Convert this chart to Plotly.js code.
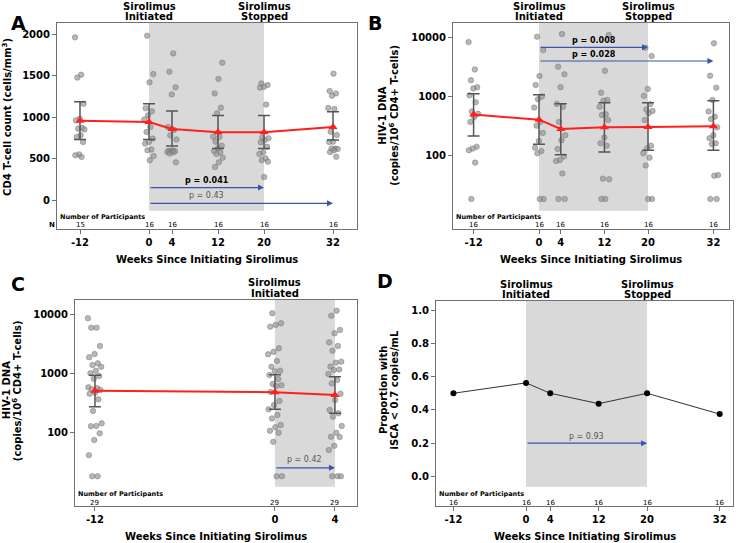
<!DOCTYPE html>
<html>
<head>
<meta charset="utf-8">
<script src="https://cdn.plot.ly/plotly-3.0.1.min.js"></script>
<style>
  body { margin: 0; background: #fff; }
  #chart { width: 736px; height: 543px; }
</style>
</head>
<body>
<div id="chart"></div>
<script>
// weeks since initiating sirolimus
const weeks = [-12, 0, 4, 12, 20, 32];
const weekLabels = ["-12", "0", "4", "12", "20", "32"];
const weeksC = [-12, 0, 4];
const weekLabelsC = ["-12", "0", "4"];

// panel A: CD4 T-cell count, one list per visit
const cd4Wm12 = [1960, 1510, 1475, 1160, 980, 960, 870, 860, 850, 780, 760, 700, 550, 540, 520];
const cd4W0 = [1980, 1518, 1418, 1105, 1070, 1020, 970, 880, 820, 740, 700, 680, 610, 600, 530, 480];
const cd4W4 = [1767, 1546, 1358, 1273, 880, 845, 780, 730, 600, 595, 590, 585, 580, 575, 560, 454];
const cd4W12 = [1655, 1458, 1285, 1112, 1045, 763, 760, 703, 655, 623, 590, 575, 554, 510, 454, 398];
const cd4W20 = [1405, 1385, 1362, 1355, 1150, 750, 745, 720, 695, 642, 575, 554, 502, 480, 462, 277];
const cd4W32 = [1523, 1313, 1285, 1257, 1110, 1097, 823, 783, 703, 700, 620, 620, 614, 600, 578, 522];
const cd4Mean = [956, 940, 855, 816, 816, 880];
const cd4Upper = [1185, 1160, 1072, 1020, 1020, 1064];
const cd4Lower = [730, 730, 650, 622, 622, 723];
const cd4N = [15, 16, 16, 16, 16, 16];

// panel B: HIV-1 DNA (copies/10^6 CD4+ T-cells)
const dnaWm12 = [8500, 2900, 1900, 1450, 1380, 1050, 800, 560, 510, 450, 370, 140, 130, 122, 75, 18];
const dnaW0 = [10500, 6200, 2250, 1580, 1000, 900, 650, 370, 320, 240, 175, 135, 118, 108, 18, 18];
const dnaW4 = [11600, 3230, 2400, 1450, 750, 670, 370, 220, 180, 128, 95, 83, 80, 49, 18, 18];
const dnaW12 = [11200, 2760, 1165, 875, 850, 673, 500, 486, 400, 200, 160, 146, 40, 39, 18, 18];
const dnaW20 = [6800, 4920, 1350, 1035, 740, 600, 570, 520, 400, 146, 132, 108, 91, 67, 18, 18];
const dnaW32 = [8100, 2270, 1420, 875, 560, 455, 415, 300, 220, 195, 160, 155, 46, 45, 18, 18];
const dnaMean = [493, 404, 281, 300, 303, 312];
const dnaUpper = [1122, 1077, 757, 787, 787, 851];
const dnaLower = [213, 154, 102, 114, 122, 122];
const dnaN = [16, 16, 16, 16, 16, 16];

// panel C: HIV-1 DNA, larger group, first 4 weeks
const dnaCm12 = [8550, 5930, 5930, 2900, 2120, 1870, 1475, 1380, 1290, 1106, 1000, 900, 809, 578, 560, 535, 520, 469, 450, 362, 230, 142, 128, 127, 96, 74, 41, 18, 18];
const dnaC0 = [10400, 7030, 6580, 6170, 2650, 2320, 2100, 1615, 1293, 1107, 1080, 935, 800, 658, 630, 609, 480, 340, 290, 245, 196, 172, 133, 122, 106, 98, 69, 18, 18];
const dnaC4 = [11500, 9470, 5420, 4760, 3350, 2900, 2420, 1575, 1510, 1300, 1165, 1137, 973, 769, 676, 450, 352, 239, 210, 184, 128, 98, 84, 83, 59, 50, 18, 18, 18];
const dnaCMean = [507, 477, 429];
const dnaCUpper = [925, 946, 875];
const dnaCLower = [272, 245, 210];
const dnaCN = [29, 29, 29];

// panel D: proportion with iSCA < 0.7 copies/mL
const iscaProp = [0.5, 0.5625, 0.5, 0.4375, 0.5, 0.375];
const iscaN = [16, 16, 16, 16, 16, 16];

const FONT = "DejaVu Sans";
const RED = "#ff1f1f";
const BLUE = "#3a54a8";

// spread points sideways a little so they don't sit on top of each other
function dots(groups, xs, spread, xa, ya) {
    let x = [], y = [];
    groups.forEach((g, gi) => {
        g.forEach((v, i) => {
            x.push(xs[gi] + (((i * 0.618034 + gi * 0.31) % 1) - 0.5) * 2 * spread);
            y.push(v);
        });
    });
    return {
        x: x, y: y, xaxis: xa, yaxis: ya, type: "scatter", mode: "markers",
        marker: { size: 5.5, color: "rgba(145,145,145,0.65)", line: { width: 0.7, color: "rgba(105,105,105,0.6)" } },
        hoverinfo: "y", showlegend: false
    };
}

function means(xs, m, up, lo, xa, ya) {
    return {
        x: xs, y: m, xaxis: xa, yaxis: ya, type: "scatter", mode: "lines+markers",
        line: { color: RED, width: 2 },
        marker: { symbol: "triangle-up", size: 8, color: RED },
        error_y: {
            type: "data", symmetric: false,
            array: up.map((u, i) => u - m[i]),
            arrayminus: lo.map((l, i) => m[i] - l),
            color: "#555", thickness: 1.5, width: 6
        },
        showlegend: false
    };
}

const traces = [
    dots([cd4Wm12, cd4W0, cd4W4, cd4W12, cd4W20, cd4W32], weeks, 0.87, "x", "y"),
    means(weeks, cd4Mean, cd4Upper, cd4Lower, "x", "y"),
    dots([dnaWm12, dnaW0, dnaW4, dnaW12, dnaW20, dnaW32], weeks, 0.92, "x2", "y2"),
    means(weeks, dnaMean, dnaUpper, dnaLower, "x2", "y2"),
    dots([dnaCm12, dnaC0, dnaC4], weeksC, 0.47, "x3", "y3"),
    means(weeksC, dnaCMean, dnaCUpper, dnaCLower, "x3", "y3"),
    {
        x: weeks, y: iscaProp, xaxis: "x4", yaxis: "y4", type: "scatter", mode: "lines+markers",
        line: { color: "#333", width: 1 }, marker: { size: 6, color: "#000" }, showlegend: false
    }
];

function xAxis(dom, range, anchor, vals, labels) {
    return {
        domain: dom, range: range, anchor: anchor, tickvals: vals, ticktext: labels,
        showline: true, mirror: true, linecolor: "#707070", linewidth: 1,
        ticks: "outside", ticklen: 4, tickcolor: "#707070",
        showgrid: false, zeroline: false,
        tickfont: { family: FONT, size: 10, weight: "bold", color: "#000" }
    };
}
function yAxis(dom, range, anchor, extra) {
    return Object.assign({
        domain: dom, range: range, anchor: anchor,
        showline: true, mirror: true, linecolor: "#707070", linewidth: 1,
        ticks: "outside", ticklen: 4, tickcolor: "#707070",
        showgrid: false, zeroline: false,
        tickfont: { family: FONT, size: 10, weight: "bold", color: "#000" }
    }, extra);
}

const shapes = [];
function shade(xa, ya, x1, bottom) {
    shapes.push({
        type: "rect", xref: xa, yref: ya + " domain", x0: 0, x1: x1, y0: bottom, y1: 1,
        fillcolor: "#d9d9d9", line: { width: 0 }, layer: "below"
    });
}
shade("x", "y", 20, 0.088);
shade("x2", "y2", 20, 0.089);
shade("x3", "y3", 4, 0.094);
shade("x4", "y4", 20, 0.094);

const ann = [];
function txt(o) {
    ann.push(Object.assign({ showarrow: false, font: { family: FONT, size: 10, color: "#000", weight: "bold" } }, o));
}

// panel letters
[["A", 9, 10], ["B", 375, 10], ["C", 9, 284], ["D", 385, 281]].forEach(p => {
    txt({ text: p[0], xref: "paper", yref: "paper", x: p[1] / 736, y: 1 - p[2] / 543,
        font: { family: FONT, size: 19, weight: "bold", color: "#000" } });
});

// treatment labels above each panel
function topLabel(xa, ya, x, word) {
    txt({ text: "Sirolimus", xref: xa, yref: ya + " domain", x: x, y: 1, yanchor: "middle", yshift: 17 });
    txt({ text: word, xref: xa, yref: ya + " domain", x: x, y: 1, yanchor: "middle", yshift: 6.5 });
}
topLabel("x", "y", 0, "Initiated");
topLabel("x", "y", 20, "Stopped");
topLabel("x2", "y2", 0, "Initiated");
topLabel("x2", "y2", 20, "Stopped");
topLabel("x3", "y3", 0, "Initiated");
topLabel("x4", "y4", 0, "Initiated");
topLabel("x4", "y4", 20, "Stopped");

// participant counts along the bottom
function counts(xa, ya, xs, n, sh1, sh2) {
    txt({ text: "Number of Participants", xref: xa + " domain", yref: ya + " domain", x: 0, y: 0,
        xanchor: "left", yanchor: "middle", xshift: 1, yshift: sh1,
        font: { family: FONT, size: 6.5, weight: "bold", color: "#000" } });
    xs.forEach((w, i) => {
        txt({ text: String(n[i]), xref: xa, yref: ya + " domain", x: w, y: 0, yanchor: "middle", yshift: sh2,
            font: { family: FONT, size: 7, color: "#000" } });
    });
}
counts("x", "y", weeks, cd4N, 12, 4);
txt({ text: "N", xref: "x domain", yref: "y domain", x: 0, y: 0, yanchor: "middle", xshift: -10, yshift: 4,
    font: { family: FONT, size: 7, weight: "bold", color: "#000" } });
counts("x2", "y2", weeks, dnaN, 12, 4);
counts("x3", "y3", weeksC, dnaCN, 12, 3.5);
counts("x4", "y4", weeks, iscaN, 12, 3.5);

// x titles
["x", "x2", "x3", "x4"].forEach((xa, i) => {
    const ya = "y" + (i ? i + 1 : "");
    txt({ text: "Weeks Since Initiating Sirolimus", xref: xa + " domain", yref: ya + " domain",
        x: 0.5, y: 0, yanchor: "middle", yshift: -30 });
});

// y titles
function yTitle(xa, ya, text, xs, yfrac) {
    txt({ text: text, xref: xa + " domain", yref: ya + " domain", x: 0, y: yfrac,
        textangle: -90, xanchor: "center", yanchor: "middle", xshift: xs });
}
yTitle("x", "y", "CD4 T-cell count (cells/mm<sup>3</sup>)", -50, 0.544);
yTitle("x2", "y2", "HIV-1 DNA", -70, 0.55);
yTitle("x2", "y2", "(copies/10<sup>6</sup> CD4+ T-cells)", -59, 0.55);
yTitle("x3", "y3", "HIV-1 DNA", -68.5, 0.56);
yTitle("x3", "y3", "(copies/10<sup>6</sup> CD4+ T-cells)", -58.5, 0.56);
yTitle("x4", "y4", "Proportion with", -52, 0.566);
yTitle("x4", "y4", "iSCA < 0.7 copies/mL", -41.5, 0.566);

// comparison arrows with p-values
function pArrow(xa, ya, y, x1, label, labelX, bold, shift) {
    ann.push({ xref: xa, yref: ya, axref: xa, ayref: ya, x: x1, y: y, ax: 0, ay: y, text: "",
        showarrow: true, arrowhead: 2, arrowsize: 1, arrowwidth: 1.2, arrowcolor: BLUE, standoff: 0 });
    txt({ text: label, xref: xa, yref: ya, x: labelX, y: y, yanchor: "middle", yshift: shift,
        font: { family: FONT, size: 8, weight: bold ? "bold" : "normal", color: bold ? "#000" : "#555" } });
}
pArrow("x", "y", 150, 20, "p = 0.041", 10, true, 7.5);
pArrow("x", "y", -40, 32, "p = 0.43", 10, false, 7.5);
pArrow("x2", "y2", Math.log10(6900), 20, "p = 0.008", 10, true, 6.5);
pArrow("x2", "y2", Math.log10(4040), 32, "p = 0.028", 10, true, 6.5);
pArrow("x3", "y3", Math.log10(25), 4, "p = 0.42", 2, false, 8);
pArrow("x4", "y4", 0.2, 20, "p = 0.93", 10, false, 7);

const layout = {
    width: 736, height: 543,
    margin: { l: 0, r: 0, t: 0, b: 0 },
    paper_bgcolor: "#fff", plot_bgcolor: "#fff",
    font: { family: FONT, color: "#000" },
    xaxis: xAxis([57 / 736, 357 / 736], [-16, 36.17], "y", weeks, weekLabels),
    yaxis: yAxis([314 / 543, 520 / 543], [-349, 2133], "x", { tickvals: [0, 500, 1000, 1500, 2000] }),
    xaxis2: xAxis([453 / 736, 729 / 736], [-15.78, 34.86], "y2", weeks, weekLabels),
    yaxis2: yAxis([314 / 543, 520 / 543], [0.744, 4.254], "x2", { type: "log", tickvals: [100, 1000, 10000], ticktext: ["100", "1000", "10000"] }),
    xaxis3: xAxis([75 / 736, 357 / 736], [-13.33, 5.47], "y3", weeksC, weekLabelsC),
    yaxis3: yAxis([37 / 543, 243 / 543], [0.751, 4.242], "x3", { type: "log", tickvals: [100, 1000, 10000], ticktext: ["100", "1000", "10000"] }),
    xaxis4: xAxis([436 / 736, 733 / 736], [-14.88, 34.2], "y4", weeks, weekLabels),
    yaxis4: yAxis([37 / 543, 242 / 543], [-0.1777, 1.0548], "x4", { tickvals: [0, 0.2, 0.4, 0.6, 0.8, 1], ticktext: ["0.0", "0.2", "0.4", "0.6", "0.8", "1.0"] }),
    shapes: shapes,
    annotations: ann
};

Plotly.newPlot("chart", traces, layout, { displayModeBar: false, staticPlot: true });
</script>
</body>
</html>
